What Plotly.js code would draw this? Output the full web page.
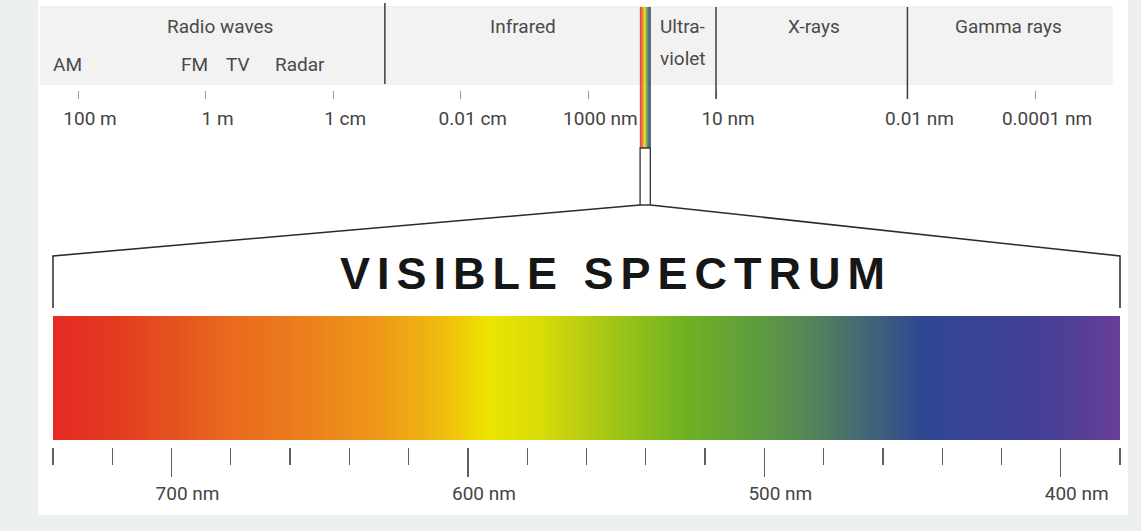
<!DOCTYPE html>
<html><head><meta charset="utf-8">
<script src="https://cdn.plot.ly/plotly-3.0.1.min.js"></script>
<style>html,body{margin:0;padding:0;background:#edf0f0;} #chart{width:1141px;height:531px;}</style>
</head><body><div id="chart"></div>
<script>
// ---------------- data ----------------
// electromagnetic spectrum (position on the log10(wavelength in m) scale)
const bandNames = ['Radio waves', 'Infrared', 'Ultra-', 'X-rays', 'Gamma rays'];
const bandNamesLine2 = ['', '', 'violet', '', ''];
const bandLabelPos = [-0.23, -4.97, -7.48, -9.53, -12.59];
const subBandNames = ['AM', 'FM', 'TV', 'Radar'];
const subBandPos = [2.16, 0.17, -0.51, -1.48];
const bandBoundaries = [-2.81, -8, -11];
const spectrumExtent = [2.6, -14.22];
const wavelengthTickVals = [2, 0, -2, -4, -6, -8, -11, -13];
const wavelengthTickText = ['100 m', '1 m', '1 cm', '0.01 cm', '1000 nm', '10 nm', '0.01 nm', '0.0001 nm'];
const visibleStripPos = [-6.81, -6.97];
// visible spectrum (nm)
const visibleRangeNm = [740, 380];
const visibleTickVals = [700, 600, 500, 400];
const visibleTickText = ['700 nm', '600 nm', '500 nm', '400 nm'];
const visibleMinorStep = 20;
const stopNm = [740, 721, 697, 677, 657, 633, 616, 603, 594, 576, 560, 527, 501, 488, 474, 461, 447, 420, 400, 380];
const stopColors = ['#e52a25', '#e2391f', '#e55520', '#ea6c1e', '#ec7d1c', '#ee951a', '#efb012', '#f0c80a', '#ece400', '#d8dc08',
                    '#b5cc12', '#6eb222', '#5e9a40', '#578a55', '#4a7468', '#3d5f7e', '#2f4792', '#3c4294', '#4b3f96', '#6a3d98'];
const titleText = 'VISIBLE SPECTRUM';

// ---------------- layout helpers ----------------
const W = 1141, H = 531;
const P = px => 1 - px / H;      // pixel row -> paper y
const X = px => px / W;          // pixel col -> paper x
const topRange = [3.2226, -14.661];
const botDomain = [X(53), X(1120)];
const topToPaper = v => (v - topRange[0]) / (topRange[1] - topRange[0]);
const botToPaper = nm => botDomain[0] + (nm - visibleRangeNm[0]) / (visibleRangeNm[1] - visibleRangeNm[0]) * (botDomain[1] - botDomain[0]);

const nmMin = Math.min(...visibleRangeNm), nmMax = Math.max(...visibleRangeNm);
const colorscale = stopNm.map((nm, i) => [(nm - nmMin) / (nmMax - nmMin), stopColors[i]]).reverse();

const FONT = "Roboto, 'Liberation Sans', sans-serif";

const stripX = stopNm.map(nm => visibleStripPos[0] + (visibleRangeNm[0] - nm) / (visibleRangeNm[0] - visibleRangeNm[1]) * (visibleStripPos[1] - visibleStripPos[0]));

const traces = [
  { type: 'heatmap', x: stripX, y: [0, 1], z: [stopNm, stopNm], zmin: nmMin, zmax: nmMax,
    colorscale: colorscale, showscale: false, zsmooth: 'best', xaxis: 'x', yaxis: 'y', hoverinfo: 'skip', opacity: 0.85 },
  { type: 'heatmap', x: stopNm, y: [0, 1], z: [stopNm, stopNm], zmin: nmMin, zmax: nmMax,
    colorscale: colorscale, showscale: false, zsmooth: 'best', xaxis: 'x2', yaxis: 'y2', hoverinfo: 'skip' }
];

const shapes = [
  { type: 'rect', xref: 'paper', yref: 'paper', x0: X(38), x1: X(1128), y0: P(515), y1: P(0),
    fillcolor: '#ffffff', line: { width: 0 }, layer: 'below' },
  { type: 'rect', xref: 'x', yref: 'paper', x0: spectrumExtent[0], x1: spectrumExtent[1], y0: P(85), y1: P(6),
    fillcolor: '#f2f2f2', line: { width: 0 }, layer: 'below' }
];
bandBoundaries.forEach(b => {
  const ext = wavelengthTickVals.includes(b);
  shapes.push({ type: 'line', xref: 'x', yref: 'paper', x0: b, x1: b, y0: P(ext ? 7 : 3), y1: P(ext ? 99 : 84),
    line: { color: '#3c3c3c', width: 1.5 } });
});
shapes.push({ type: 'line', xref: 'x', yref: 'paper', x0: visibleStripPos[1], x1: visibleStripPos[1], y0: P(7), y1: P(148),
  line: { color: '#5a6a5a', width: 1 } });
shapes.push({ type: 'rect', xref: 'x', yref: 'paper', x0: visibleStripPos[0], x1: visibleStripPos[1], y0: P(205), y1: P(148),
  fillcolor: '#ffffff', line: { color: '#333333', width: 1.3 } });
const xl = topToPaper(visibleStripPos[0]), xr = topToPaper(visibleStripPos[1]);
const bl = botToPaper(visibleRangeNm[0]), br = botToPaper(visibleRangeNm[1]);
shapes.push({ type: 'path', xref: 'paper', yref: 'paper',
  path: `M ${xl},${P(205)} L ${bl},${P(256)} L ${bl},${P(308)} M ${xr},${P(205)} L ${br},${P(256)} L ${br},${P(308)}`,
  line: { color: '#2a2a2a', width: 1.5 } });

const annotations = [];
const lblFont = { family: FONT, size: 19, color: '#4a4a4a' };
bandNames.forEach((t, i) => {
  annotations.push({ xref: 'x', yref: 'paper', x: bandLabelPos[i], y: P(27), text: t, showarrow: false,
    xanchor: 'center', yanchor: 'middle', font: lblFont });
  if (bandNamesLine2[i]) annotations.push({ xref: 'x', yref: 'paper', x: bandLabelPos[i], y: P(58), text: bandNamesLine2[i], showarrow: false,
    xanchor: 'center', yanchor: 'middle', font: lblFont });
});
subBandNames.forEach((t, i) => {
  annotations.push({ xref: 'x', yref: 'paper', x: subBandPos[i], y: P(64), text: t, showarrow: false,
    xanchor: 'center', yanchor: 'middle', font: lblFont });
});
annotations.push({ xref: 'paper', yref: 'paper', x: X(616), y: P(274), text: titleText, showarrow: false,
  xanchor: 'center', yanchor: 'middle',
  font: { family: "'Liberation Sans', Arial, sans-serif", size: 45, weight: 700, color: '#161616' } });

const layout = {
  width: W, height: H, margin: { l: 0, r: 0, t: 0, b: 0, pad: 0 },
  paper_bgcolor: '#edf0f0', plot_bgcolor: 'rgba(0,0,0,0)', showlegend: false,
  xaxis: { domain: [0, 1], range: topRange, anchor: 'free', position: P(90), side: 'bottom',
    tickmode: 'array', tickvals: wavelengthTickVals, ticktext: wavelengthTickText,
    ticks: 'outside', ticklen: 8, tickwidth: 1, tickcolor: '#999', ticklabelshift: -12, ticklabelstandoff: 3,
    tickfont: { family: FONT, size: 19, color: '#444' },
    showline: false, showgrid: false, zeroline: false, fixedrange: true },
  yaxis: { domain: [P(148), P(7)], range: [0, 1], visible: false, fixedrange: true },
  xaxis2: { domain: botDomain, range: visibleRangeNm, anchor: 'free', position: P(447), side: 'bottom',
    tickmode: 'array', tickvals: visibleTickVals, ticktext: visibleTickText,
    ticks: 'outside', ticklen: 29, tickwidth: 1.3, tickcolor: '#606060', ticklabelshift: -16,
    minor: { ticks: 'outside', tickmode: 'linear', tick0: nmMin, dtick: visibleMinorStep, ticklen: 17, tickwidth: 1.3, tickcolor: '#606060' },
    tickfont: { family: FONT, size: 19, color: '#444' },
    showline: false, showgrid: false, zeroline: false, fixedrange: true },
  yaxis2: { domain: [P(440), P(316)], range: [0, 1], visible: false, fixedrange: true },
  shapes: shapes, annotations: annotations
};

Plotly.newPlot('chart', traces, layout, { displayModeBar: false, staticPlot: true }).then(() => {
  document.querySelectorAll('.annotation-text').forEach(el => {
    if (el.textContent === titleText) el.style.letterSpacing = '7px';
  });
});
</script>
</body></html>
